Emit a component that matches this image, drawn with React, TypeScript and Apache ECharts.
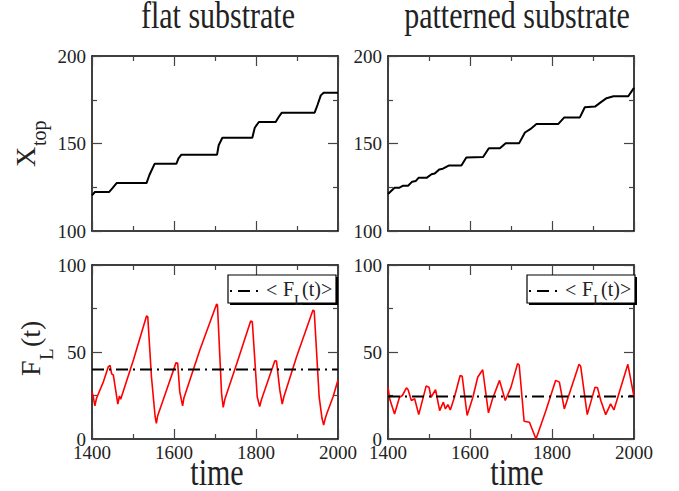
import React, { useEffect, useRef } from "react";
import * as echarts from "echarts";

// ---- Data ----
// top-left: X_top, flat substrate
const flatTopTime = [1400, 1407, 1442, 1450, 1460, 1533, 1540, 1553, 1606, 1611, 1618, 1705, 1709, 1718, 1791, 1797, 1807, 1848, 1855, 1863, 1943, 1950, 1958, 1965, 2000];
const flatTopX = [120.4, 122.3, 122.3, 124.5, 127.4, 127.4, 132, 138.5, 138.5, 141.5, 143.6, 143.6, 149, 153.3, 153.3, 159, 162.3, 162.3, 165, 167.6, 167.6, 172, 177.5, 179, 179];

// top-right: X_top, patterned substrate
const patTopTime = [1400, 1416, 1427, 1437, 1449, 1459, 1468, 1475, 1495, 1506, 1514, 1525, 1534, 1548, 1579, 1591, 1632, 1646, 1673, 1687, 1720, 1734, 1747, 1762, 1815, 1830, 1868, 1880, 1905, 1917, 1933, 1950, 1986, 2000];
const patTopX = [121.1, 124.7, 124.7, 125.9, 125.9, 128.2, 128.6, 130.5, 130.5, 132.4, 132.8, 135.2, 135.6, 137.4, 137.4, 142, 142.3, 147.3, 147.3, 150.2, 150.2, 156.3, 158.2, 161.1, 161.1, 164.9, 164.9, 170.7, 171.1, 173.2, 175.9, 177, 177, 181.8];

// bottom-left: F_L(t), flat substrate
const flatFTime = [1400, 1403, 1407, 1411, 1428, 1440, 1444, 1448, 1452, 1463, 1467, 1470, 1501, 1533, 1536, 1545, 1554, 1557, 1560, 1582, 1605, 1609, 1614, 1621, 1624, 1663, 1704, 1706, 1716, 1720, 1724, 1756, 1787, 1791, 1803, 1809, 1813, 1846, 1850, 1858, 1864, 1868, 1899, 1939, 1942, 1954, 1961, 1965, 1969, 1973, 1988, 2000];
const flatF = [27.2, 24.3, 19.0, 23.4, 33.0, 41.6, 42.3, 37.4, 36.8, 20.1, 24.7, 22.8, 45.4, 70.7, 70.3, 35.8, 12.8, 9.0, 13.2, 28.2, 43.9, 43.5, 27.2, 19.0, 23.4, 51.1, 77.6, 77.0, 26.2, 18.2, 22.8, 45.4, 67.8, 67.4, 24.3, 18.6, 22.4, 45.0, 44.8, 28.2, 20.1, 24.3, 47.3, 74.1, 73.6, 24.3, 11.9, 8.0, 11.9, 14.8, 24.3, 33.9];
const flatMean = 40.0;

// bottom-right: F_L(t), patterned substrate
const patFTime = [1400, 1404, 1416, 1428, 1435, 1445, 1449, 1457, 1465, 1475, 1493, 1500, 1505, 1516, 1526, 1535, 1540, 1546, 1552, 1562, 1576, 1581, 1593, 1607, 1619, 1631, 1645, 1655, 1672, 1686, 1700, 1716, 1720, 1732, 1745, 1761, 1785, 1809, 1818, 1830, 1866, 1870, 1886, 1905, 1911, 1919, 1931, 1943, 1951, 1985, 2000];
const patF = [29.8, 23.1, 14.4, 24.0, 25.0, 29.4, 28.3, 22.1, 23.1, 14.0, 30.4, 29.8, 24.0, 28.3, 16.3, 21.2, 17.3, 19.8, 16.7, 24.0, 36.5, 36.0, 13.5, 24.0, 35.6, 39.8, 15.0, 23.1, 33.7, 22.1, 29.8, 43.3, 42.5, 10.2, 9.6, 0, 16.3, 33.7, 32.7, 17.3, 42.9, 41.8, 14.0, 29.8, 29.4, 22.1, 14.0, 20.2, 16.7, 42.9, 24.4];
const patMean = 24.4;

const zip = (a: number[], b: number[]) => a.map((t, i) => [t, b[i]]);

const FONT = "Liberation Serif";
const INK = "#222";

const grids = [
  { left: 92, top: 56, width: 246, height: 175 },
  { left: 388, top: 56, width: 246, height: 175 },
  { left: 92, top: 265, width: 246, height: 174 },
  { left: 388, top: 265, width: 246, height: 174 },
];

function mkXAxis(gi: number, showLabels: boolean, mirror: boolean) {
  return {
    type: "value",
    gridIndex: gi,
    min: 1400,
    max: 2000,
    interval: 200,
    position: mirror ? "top" : "bottom",
    axisLine: { show: true, onZero: false, lineStyle: { color: "#000", width: 1.5 } },
    axisTick: { show: true, inside: true, length: 10, lineStyle: { color: "#444", width: 1.2 } },
    minorTick: { show: true, splitNumber: 2, length: 5, lineStyle: { color: "#444", width: 1.2 } },
    splitLine: { show: false },
    minorSplitLine: { show: false },
    axisLabel: {
      show: showLabels && !mirror,
      fontFamily: FONT,
      fontSize: 19,
      color: INK,
      margin: 4,
      formatter: (v: number) => String(v),
    },
  };
}

function mkYAxis(gi: number, min: number, max: number, mirror: boolean) {
  return {
    type: "value",
    gridIndex: gi,
    min,
    max,
    interval: 50,
    position: mirror ? "right" : "left",
    axisLine: { show: true, onZero: false, lineStyle: { color: "#000", width: 1.5 } },
    axisTick: { show: true, inside: true, length: 10, lineStyle: { color: "#444", width: 1.2 } },
    minorTick: { show: true, splitNumber: 2, length: 5, lineStyle: { color: "#444", width: 1.2 } },
    splitLine: { show: false },
    minorSplitLine: { show: false },
    axisLabel: {
      show: !mirror,
      fontFamily: FONT,
      fontSize: 19,
      color: INK,
      margin: 6,
      formatter: (v: number) => String(v),
    },
  };
}

// text positioned by its baseline (x, base), using central alignment
function txt(x: number, base: number, text: string, fs: number, align: string = "left", extra: any = {}) {
  return {
    type: "text",
    x,
    y: base - 0.34 * fs,
    style: { text, font: `${fs}px '${FONT}'`, fill: INK, align, verticalAlign: "middle" },
    ...extra,
  };
}

// stretched big label: group at baseline, scaled vertically
function bigLabel(x: number, base: number, text: string) {
  return {
    type: "group",
    x,
    y: base,
    scaleY: 1.25,
    children: [txt(0, 0, text, 30, "center")],
  };
}

function legendGraphic(x0: number) {
  return [
    { type: "rect", shape: { x: x0 + 2, y: 277, width: 108, height: 28 }, style: { fill: "#000" }, z: 10 },
    { type: "rect", shape: { x: x0, y: 275, width: 108, height: 28 }, style: { fill: "#fff", stroke: "#000", lineWidth: 1.2 }, z: 11 },
    { type: "line", shape: { x1: x0 + 2, y1: 291, x2: x0 + 33, y2: 291 }, style: { stroke: "#000", lineWidth: 2, lineDash: [2, 6, 12, 6] }, z: 12 },
    txt(x0 + 38, 297, "<", 20, "left", { z: 12 }),
    txt(x0 + 55, 296, "F", 20, "left", { z: 12 }),
    txt(x0 + 66, 305, "L", 15, "left", { z: 12 }),
    txt(x0 + 74, 296, "(t)>", 20, "left", { z: 12 }),
  ];
}

export default function App() {
  const ref = useRef<HTMLDivElement>(null);
  useEffect(() => {
    if (!ref.current) return;
    const chart = echarts.init(ref.current, undefined, { renderer: "svg" });
    const dashDot = [12, 5, 2, 5];
    const option: any = {
      animation: false,
      backgroundColor: "#fff",
      grid: grids.map((g) => ({ ...g, containLabel: false })),
      xAxis: [
        mkXAxis(0, false, false),
        mkXAxis(1, false, false),
        mkXAxis(2, true, false),
        mkXAxis(3, true, false),
        mkXAxis(0, false, true),
        mkXAxis(1, false, true),
        mkXAxis(2, false, true),
        mkXAxis(3, false, true),
      ],
      yAxis: [
        mkYAxis(0, 100, 200, false),
        mkYAxis(1, 100, 200, false),
        mkYAxis(2, 0, 100, false),
        mkYAxis(3, 0, 100, false),
        mkYAxis(0, 100, 200, true),
        mkYAxis(1, 100, 200, true),
        mkYAxis(2, 0, 100, true),
        mkYAxis(3, 0, 100, true),
      ],
      series: [
        { type: "line", xAxisIndex: 0, yAxisIndex: 0, data: zip(flatTopTime, flatTopX), symbol: "none", lineStyle: { color: "#000", width: 2 } },
        { type: "line", xAxisIndex: 1, yAxisIndex: 1, data: zip(patTopTime, patTopX), symbol: "none", lineStyle: { color: "#000", width: 2 } },
        { type: "line", xAxisIndex: 2, yAxisIndex: 2, data: zip(flatFTime, flatF), symbol: "none", lineStyle: { color: "#f00", width: 1.6 } },
        { type: "line", xAxisIndex: 2, yAxisIndex: 2, data: [[1400, flatMean], [2000, flatMean]], symbol: "none", lineStyle: { color: "#000", width: 2, type: dashDot } },
        { type: "line", xAxisIndex: 3, yAxisIndex: 3, data: zip(patFTime, patF), symbol: "none", lineStyle: { color: "#f00", width: 1.6 } },
        { type: "line", xAxisIndex: 3, yAxisIndex: 3, data: [[1400, patMean], [2000, patMean]], symbol: "none", lineStyle: { color: "#000", width: 2, type: dashDot } },
      ],
      graphic: [
        bigLabel(218, 28, "flat substrate"),
        bigLabel(517, 28, "patterned substrate"),
        bigLabel(217, 485, "time"),
        bigLabel(517, 485, "time"),
        {
          type: "group",
          x: 35,
          y: 167,
          rotation: Math.PI / 2,
          children: [
            txt(0, 0, "X", 28),
            txt(21, 11, "top", 20),
          ],
        },
        {
          type: "group",
          x: 40,
          y: 376,
          rotation: Math.PI / 2,
          children: [
            txt(0, 0, "F", 28),
            txt(16, 13, "L", 19),
            txt(29, 0, "(t)", 28),
          ],
        },
        ...legendGraphic(228),
        ...legendGraphic(527),
      ],
    };
    chart.setOption(option);
    return () => chart.dispose();
  }, []);
  return (
    <div
      ref={ref}
      style={{ position: "fixed", left: 0, top: 0, width: 679, height: 491, background: "#fff" }}
    />
  );
}
